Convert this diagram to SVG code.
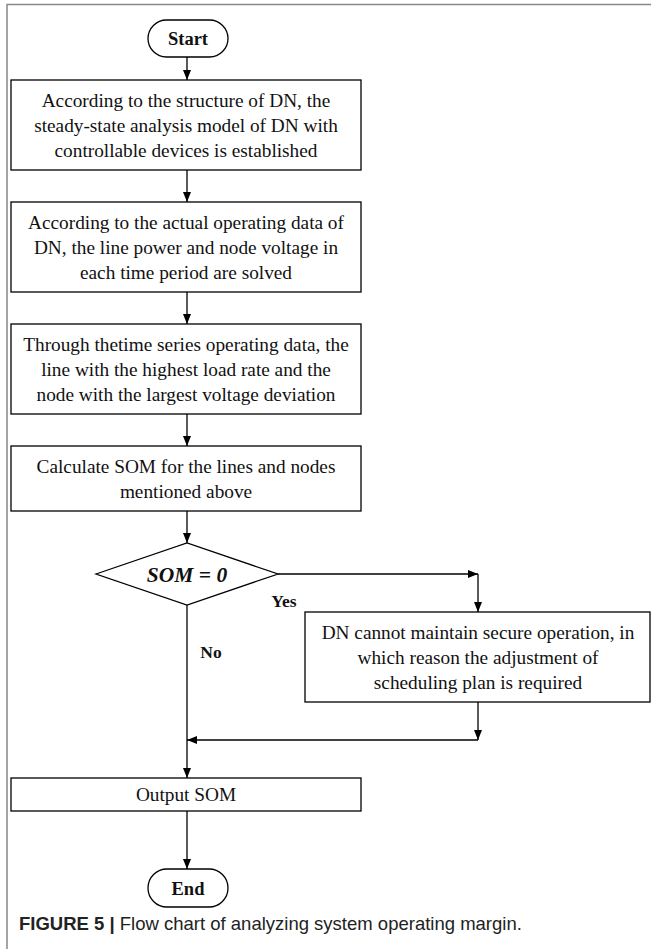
<svg xmlns="http://www.w3.org/2000/svg" width="651" height="949" viewBox="0 0 651 949">
<defs>
<marker id="arr" viewBox="0 0 10 10" refX="10" refY="5" markerWidth="10" markerHeight="10" markerUnits="userSpaceOnUse" orient="auto">
<path d="M0,1 L10,5 L0,9 Z" fill="#000"/>
</marker>
</defs>
<style>
.box{fill:#fff;stroke:#000;stroke-width:1.3}
.t{font-family:"Liberation Serif","Times New Roman",serif;font-size:19.3px;fill:#111;text-anchor:middle}
.tb{font-family:"Liberation Serif","Times New Roman",serif;font-size:18.5px;font-weight:bold;fill:#111;text-anchor:middle}
.ln{fill:none;stroke:#000;stroke-width:1.3}
.cap{font-family:"Liberation Sans",Arial,sans-serif;font-size:18.5px;fill:#222}
</style>
<rect width="651" height="949" fill="#fff"/>
<path d="M7,949 V4.5 H651" fill="none" stroke="#888" stroke-width="1.5"/>
<g id="connectors">
<line class="ln" x1="187" y1="57" x2="187" y2="80" marker-end="url(#arr)"/>
<line class="ln" x1="187" y1="170" x2="187" y2="202" marker-end="url(#arr)"/>
<line class="ln" x1="187" y1="292" x2="187" y2="324" marker-end="url(#arr)"/>
<line class="ln" x1="187" y1="414" x2="187" y2="446" marker-end="url(#arr)"/>
<line class="ln" x1="187" y1="511" x2="187" y2="543" marker-end="url(#arr)"/>
<line class="ln" x1="278" y1="574" x2="478" y2="574" marker-end="url(#arr)"/>
<line class="ln" x1="478" y1="574" x2="478" y2="612" marker-end="url(#arr)"/>
<line class="ln" x1="478" y1="702" x2="478" y2="740" marker-end="url(#arr)"/>
<line class="ln" x1="478" y1="740" x2="187" y2="740" marker-end="url(#arr)"/>
<line class="ln" x1="187" y1="605" x2="187" y2="778" marker-end="url(#arr)"/>
<line class="ln" x1="187" y1="811" x2="187" y2="869" marker-end="url(#arr)"/>
<text class="tb" x="284" y="607" style="font-size:17.5px">Yes</text>
<text class="tb" x="211" y="658" style="font-size:17.5px">No</text>
</g>
<g id="start">
<rect class="box" x="148" y="20" width="80" height="37" rx="18.5"/>
<text class="tb" x="188" y="45">Start</text>
</g>
<g id="step1">
<rect class="box" x="11" y="80" width="350" height="90"/>
<text class="t" x="186" y="107">According to the structure of DN, the</text>
<text class="t" x="186" y="132">steady-state analysis model of DN with</text>
<text class="t" x="186" y="157">controllable devices is established</text>
</g>
<g id="step2">
<rect class="box" x="11" y="202" width="350" height="90"/>
<text class="t" x="186" y="229">According to the actual operating data of</text>
<text class="t" x="186" y="254">DN, the line power and node voltage in</text>
<text class="t" x="186" y="279">each time period are solved</text>
</g>
<g id="step3">
<rect class="box" x="11" y="324" width="350" height="90"/>
<text class="t" x="186" y="351">Through thetime series operating data, the</text>
<text class="t" x="186" y="376">line with the highest load rate and the</text>
<text class="t" x="186" y="401">node with the largest voltage deviation</text>
</g>
<g id="step4">
<rect class="box" x="11" y="446" width="350" height="65"/>
<text class="t" x="186" y="473">Calculate SOM for the lines and nodes</text>
<text class="t" x="186" y="498">mentioned above</text>
</g>
<g id="decision">
<polygon class="box" points="96,574 187,543 278,574 187,605"/>
<text x="187" y="581.5" text-anchor="middle" style="font-family:'Liberation Serif','Times New Roman',serif;font-size:21.5px;font-weight:bold;font-style:italic;fill:#111">SOM = 0</text>
</g>
<g id="adjust">
<rect class="box" x="305" y="612" width="345" height="90"/>
<text class="t" x="478" y="639">DN cannot maintain secure operation, in</text>
<text class="t" x="478" y="664">which reason the adjustment of</text>
<text class="t" x="478" y="689">scheduling plan is required</text>
</g>
<g id="output">
<rect class="box" x="11" y="778" width="350" height="33"/>
<text class="t" x="186" y="801">Output SOM</text>
</g>
<g id="end">
<rect class="box" x="148" y="869" width="80" height="38" rx="19"/>
<text class="tb" x="188" y="894.5">End</text>
</g>
<text class="cap" x="19" y="930"><tspan font-weight="bold">FIGURE 5 |</tspan> Flow chart of analyzing system operating margin.</text>
</svg>
